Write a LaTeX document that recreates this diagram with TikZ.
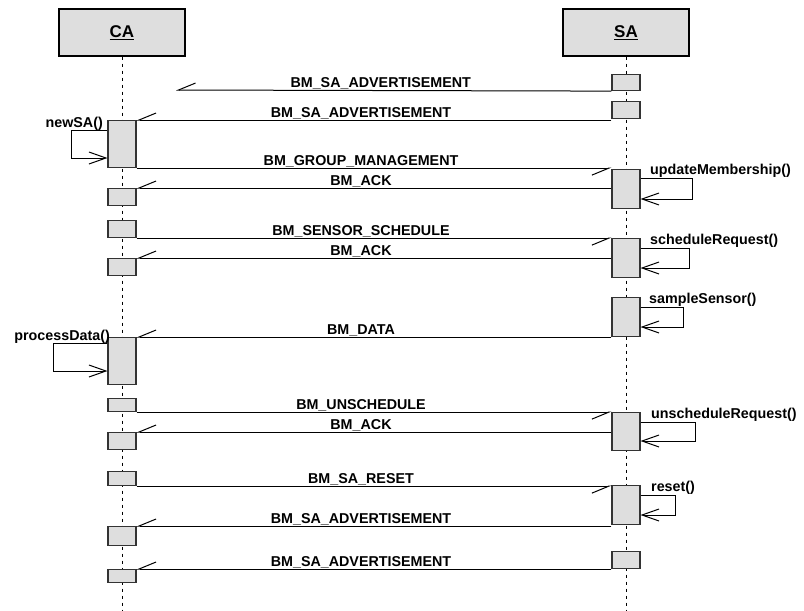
\documentclass[tikz,border=0pt]{standalone}
\usepackage{fontspec}
\setmainfont{Liberation Sans}
\usepackage{xcolor}
\usepackage{tikz}
\usetikzlibrary{arrows.meta,positioning,calc}

\definecolor{actfill}{RGB}{222,222,222}
\definecolor{actline}{RGB}{51,51,51}

\tikzset{
  head/.style={draw=black,fill=actfill,line width=1.2pt,minimum width=126pt,minimum height=47pt,inner sep=0pt,font=\bfseries\fontsize{17}{19}\selectfont},
  act/.style={draw=actline,fill=actfill,line width=1.1pt,minimum width=28pt,inner sep=0pt,anchor=north},
  life/.style={line width=1pt,dash pattern=on 3.5pt off 3.5pt},
  msg/.style={line width=1pt,-{Straight Barb[right,length=17pt,width=14pt]}},
  selfmsg/.style={line width=1pt,-{Straight Barb[length=17pt,width=12pt]}},
  lbl/.style={font=\bfseries\fontsize{14.3}{16}\selectfont,anchor=base,inner sep=0pt},
  msglbl/.style={lbl,midway,xshift=-13pt,yshift=3pt}
}

\begin{document}
\begin{tikzpicture}[x=1pt,y=-1pt]
  \useasboundingbox (0,0) rectangle (804,611);
  % objects
  \node[head] (ca) at (122,32.5) {\underline{CA}};
  \node[head] (sa) at (626,32.5) {\underline{SA}};
  \coordinate (caEnd) at (122,611);
  \coordinate (saEnd) at (626,611);
  \draw[life] (ca.south) -- (caEnd);
  \draw[life] (sa.south) -- (saEnd);

  % activations CA
  \node[act,minimum height=47pt] (caNew)   at (122,120) {};
  \node[act,minimum height=17pt] (caAck1)  at (122,188) {};
  \node[act,minimum height=17pt] (caSched) at (122,220) {};
  \node[act,minimum height=17pt] (caAck2)  at (122,258) {};
  \node[act,minimum height=47pt] (caProc)  at (122,337) {};
  \node[act,minimum height=13pt] (caUnsch) at (122,398) {};
  \node[act,minimum height=17pt] (caAck3)  at (122,432) {};
  \node[act,minimum height=14pt] (caReset) at (122,471) {};
  \node[act,minimum height=19pt] (caAdv1)  at (122,526) {};
  \node[act,minimum height=13pt] (caAdv2)  at (122,569) {};

  % activations SA
  \node[act,minimum height=16pt] (saAdv1)   at (626,74) {};
  \node[act,minimum height=17pt] (saAdv2)   at (626,101) {};
  \node[act,minimum height=39pt] (saUpd)    at (626,169) {};
  \node[act,minimum height=39pt] (saSched)  at (626,238) {};
  \node[act,minimum height=39pt] (saSample) at (626,297) {};
  \node[act,minimum height=38pt] (saUnsch)  at (626,412) {};
  \node[act,minimum height=39pt] (saReset)  at (626,485) {};
  \node[act,minimum height=17pt] (saAdv3)   at (626,551) {};

  % messages
  \coordinate (lost) at (176,90);
  \draw[msg] (saAdv1.south west) -- (lost) node[msglbl] {BM\_SA\_ADVERTISEMENT};
  \draw[msg] (caNew.north east -| saAdv2.west) -- (caNew.north east) node[msglbl] {BM\_SA\_ADVERTISEMENT};
  \draw[msg] (caNew.south east) -- (caNew.south east -| saUpd.west) node[msglbl] {BM\_GROUP\_MANAGEMENT};
  \draw[msg] (caAck1.north east -| saUpd.west) -- (caAck1.north east) node[msglbl] {BM\_ACK};
  \draw[msg] (caSched.south east) -- (caSched.south east -| saSched.west) node[msglbl] {BM\_SENSOR\_SCHEDULE};
  \draw[msg] (caAck2.north east -| saSched.west) -- (caAck2.north east) node[msglbl] {BM\_ACK};
  \draw[msg] (caProc.north east -| saSample.west) -- (caProc.north east) node[msglbl] {BM\_DATA};
  \draw[msg] (caUnsch.south east) -- (caUnsch.south east -| saUnsch.west) node[msglbl] {BM\_UNSCHEDULE};
  \draw[msg] (caAck3.north east -| saUnsch.west) -- (caAck3.north east) node[msglbl] {BM\_ACK};
  \draw[msg] (caReset.south east) -- (caReset.south east -| saReset.west) node[msglbl] {BM\_SA\_RESET};
  \draw[msg] (caAdv1.north east -| saReset.west) -- (caAdv1.north east) node[msglbl] {BM\_SA\_ADVERTISEMENT};
  \draw[msg] (caAdv2.north east -| saAdv3.west) -- (caAdv2.north east) node[msglbl] {BM\_SA\_ADVERTISEMENT};

  % self calls
  \draw[selfmsg] ([yshift=-10pt]caNew.north west) -- ++(-36,0) |- ([yshift=-38pt]caNew.north west);
  \node[lbl,anchor=base east] (newsa) at (103,127) {newSA()};
  \draw[selfmsg] ([yshift=-6pt]caProc.north west) -- ++(-54,0) |- ([yshift=-34pt]caProc.north west);
  \node[lbl,anchor=base east] (procdata) at (110,340) {processData()};
  \draw[selfmsg] ([yshift=-9pt]saUpd.north east) -- ++(52,0) |- ([yshift=-30pt]saUpd.north east);
  \node[lbl,anchor=base west] (updmem) at (650,174) {updateMembership()};
  \draw[selfmsg] ([yshift=-10pt]saSched.north east) -- ++(49,0) |- ([yshift=-30pt]saSched.north east);
  \node[lbl,anchor=base west] (schedreq) at (650,244) {scheduleRequest()};
  \draw[selfmsg] ([yshift=-10pt]saSample.north east) -- ++(43,0) |- ([yshift=-30pt]saSample.north east);
  \node[lbl,anchor=base west] (sample) at (649,303) {sampleSensor()};
  \draw[selfmsg] ([yshift=-10pt]saUnsch.north east) -- ++(55,0) |- ([yshift=-29pt]saUnsch.north east);
  \node[lbl,anchor=base west] (unschreq) at (651,418) {unscheduleRequest()};
  \draw[selfmsg] ([yshift=-10pt]saReset.north east) -- ++(35,0) |- ([yshift=-30pt]saReset.north east);
  \node[lbl,anchor=base west] (reset) at (651,491) {reset()};
\end{tikzpicture}
\end{document}
